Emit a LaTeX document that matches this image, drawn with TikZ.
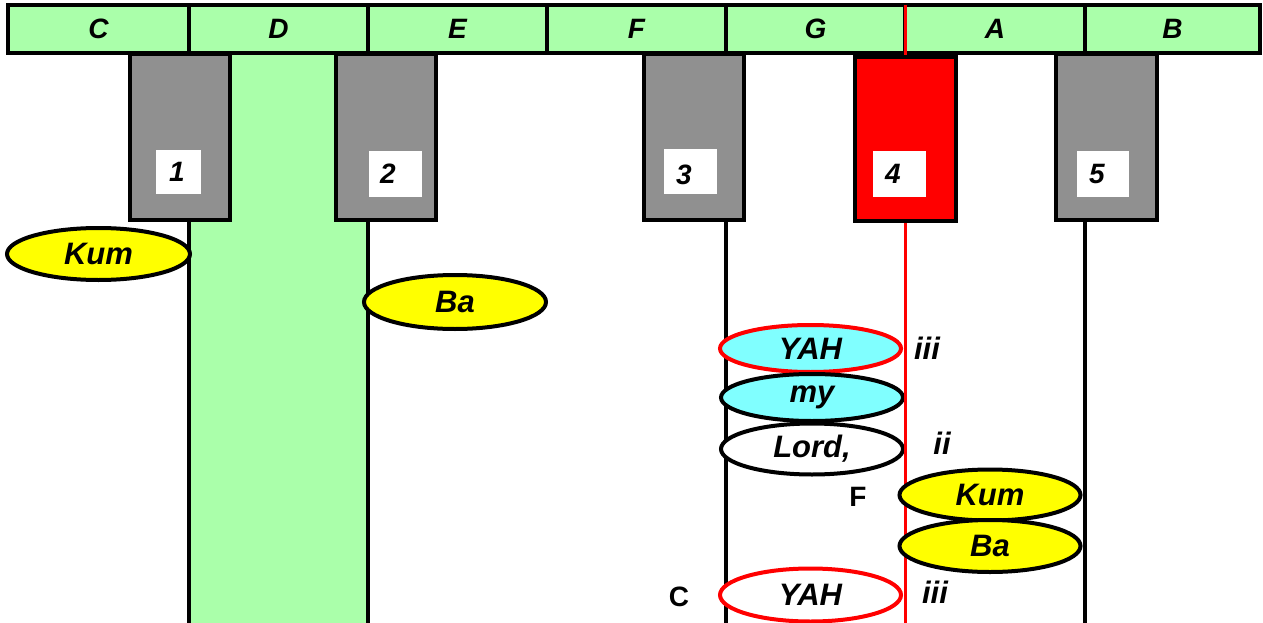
\documentclass[tikz,border=0pt]{standalone}
\usepackage{fontspec}
\setmainfont{Liberation Sans}
\usetikzlibrary{shapes.geometric}
\definecolor{barg}{HTML}{AAFFAA}
\definecolor{boxgrey}{HTML}{909090}
\definecolor{cyanf}{HTML}{80FFFF}
\definecolor{yel}{HTML}{FFFF00}
\begin{document}
\begin{tikzpicture}[x=1pt,y=-1pt,
  txt/.style={font=\fontsize{28}{30}\selectfont\bfseries\itshape},
  bigtxt/.style={font=\fontsize{31}{33}\selectfont\bfseries\itshape},
  cell/.style={txt,draw=black,line width=4pt,fill=barg,minimum height=48pt,inner sep=0pt},
  gbox/.style={draw=black,line width=4pt,fill=boxgrey,inner sep=0pt,minimum height=166pt},
  sq/.style={fill=white,inner sep=0pt},
  num/.style={txt,inner sep=0pt},
  oval/.style={bigtxt,ellipse,draw=black,line width=4pt,inner sep=0pt,minimum width=182pt,minimum height=50pt},
  vline/.style={line width=4pt},
  rline/.style={red,line width=3pt},
  lab/.style={bigtxt,inner sep=0pt},
  labup/.style={font=\fontsize{28}{30}\selectfont\bfseries,inner sep=0pt}]
\useasboundingbox (0,0) rectangle (1263,623);
% green column
\fill[barg] (189,53) rectangle (368,623);
% bar cells
\node[cell,minimum width=181pt] (cC) at (98.5,29) {C};
\node[cell,minimum width=179pt] (cD) at (278.5,29) {D};
\node[cell,minimum width=179pt] (cE) at (457.5,29) {E};
\node[cell,minimum width=179pt] (cF) at (636.5,29) {F};
\node[cell,minimum width=179pt] (cG) at (815.5,29) {G};
\node[cell,minimum width=180pt] (cA) at (995,29) {A};
\node[cell,minimum width=175pt] (cB) at (1172.5,29) {B};
% bottom coordinates of the verticals
\coordinate (b1) at (189,623);
\coordinate (b2) at (368,623);
\coordinate (b3) at (726,623);
\coordinate (b4) at (905,623);
\coordinate (b5) at (1085,623);
\coordinate (t4) at (905,5);
% boxes
\node[gbox,minimum width=100pt] (box1) at (180,137) {};
\node[gbox,minimum width=100pt] (box2) at (386,137) {};
\node[gbox,minimum width=100pt] (box3) at (694,137) {};
\node[gbox,minimum width=101pt] (box5) at (1106.5,137) {};
\draw[vline] (b1 |- box1.south) -- (b1);
\draw[vline] (b2 |- box2.south) -- (b2);
\draw[vline] (b3 |- box3.south) -- (b3);
\draw[vline] (b5 |- box5.south) -- (b5);
\draw[rline] (t4) -- (b4 |- 0,57);
\node[gbox,fill=red,minimum width=101pt,minimum height=164pt] (box4) at (905.5,139) {};
% white squares and numbers
\node[sq,minimum width=45pt,minimum height=44pt] (s1) at (178,172) {};
\node[sq,minimum width=53pt,minimum height=46pt] (s2) at (395,174) {};
\node[sq,minimum width=53pt,minimum height=45pt] (s3) at (690,171) {};
\node[sq,minimum width=53pt,minimum height=46pt] (s4) at (899,174) {};
\node[sq,minimum width=52pt,minimum height=46pt] (s5) at (1103,174) {};
\node[num] (n1) at ([xshift=-1pt]s1.center) {1};
\node[num] (n2) at ([xshift=-7pt]s2.center) {2};
\node[num] (n3) at ([xshift=-6pt,yshift=-4pt]s3.center) {3};
\node[num] (n4) at ([xshift=-6pt]s4.center) {4};
\node[num] (n5) at ([xshift=-6pt]s5.center) {5};
% ovals on the left
\node[oval,fill=yel,minimum width=183pt,minimum height=52pt] (kum1) at (98.5,254) {Kum};
\node[oval,fill=yel,minimum width=182pt,minimum height=54pt] (ba1) at (455,302) {Ba};
\node[oval,draw=red,fill=cyanf,minimum width=181pt,minimum height=47pt] (yah1) at (810.5,348.5) {YAH};
\node[oval,fill=cyanf,minimum width=182pt,minimum height=47pt] (my) at (812,397.5) {my};
\node[oval,fill=white,minimum width=182pt,minimum height=51pt] (lord) at (812,449) {Lord,};
\node[oval,draw=red,fill=white,minimum width=181pt,minimum height=53pt] (yah2) at (810.5,595) {YAH};
\draw[rline] (b4 |- box4.south) -- (b4);
% ovals on the right
\node[oval,fill=yel,minimum width=181pt,minimum height=51pt] (kum2) at (990,495) {Kum};
\node[oval,fill=yel,minimum width=181pt,minimum height=52pt] (ba2) at (990,546) {Ba};
% labels
\node[lab] (iii1) at (927,348) {iii};
\node[lab] (ii) at (942,443) {ii};
\node[labup] (lF) at (858,497) {F};
\node[labup] (lC) at (679,597) {C};
\node[lab] (iii2) at (935,592) {iii};
\end{tikzpicture}
\end{document}
